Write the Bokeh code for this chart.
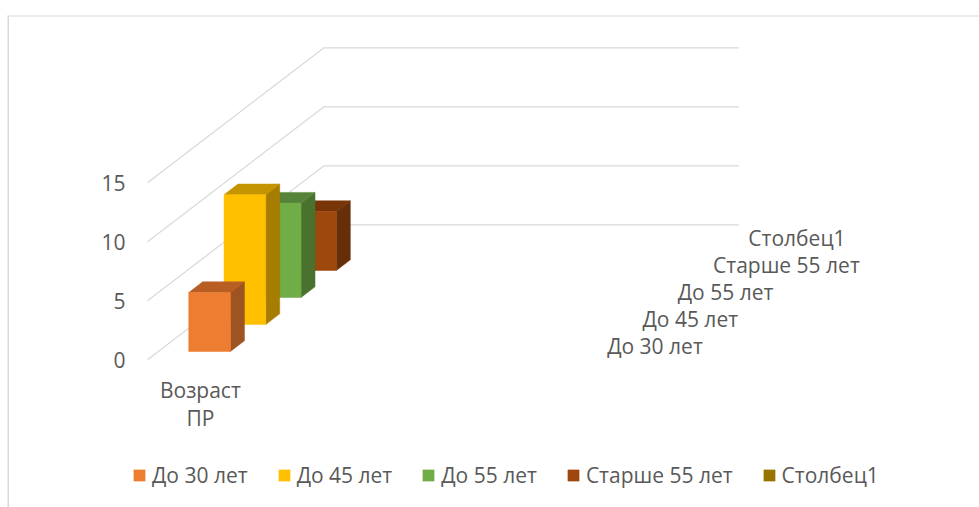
from bokeh.plotting import figure
from bokeh.embed import file_html
from bokeh.resources import INLINE
from bokeh.core.properties import value
from bokeh.models import (BoxAnnotation, FixedTicker, Legend, LegendItem, LinearAxis, Range1d)

# ---- data ----
categories = ["Возраст ПР"]
series_names = ["До 30 лет", "До 45 лет", "До 55 лет", "Старше 55 лет", "Столбец1"]
series_values = [5, 11, 8, 5, None]
y_ticks = [0, 5, 10, 15]
front_colors = ["#ED7D31", "#FFC000", "#70AD47", "#9E480E", "#997300"]
side_colors = ["#9E5323", "#A67D00", "#4A722E", "#662F09", "#664D00"]
top_colors = ["#B85E24", "#C49500", "#558439", "#783608", "#735600"]

# ---- layout of the oblique projection ----
W, H = 979, 507
ORIGIN_X, ORIGIN_Y = 147.0, 359.3   # px of value 0, depth 0, category 0
PX_PER_VALUE = 11.8
PX_PER_CAT = 103.75
N_CATS = 4
DEPTH_DX, DEPTH_DY = 35.3, 27.0     # px per series step in depth
BAR_X0, BAR_X1 = 0.293, 0.695       # in category units
BAR_D0, BAR_D1 = 0.307, 0.703       # in depth units
FONT = "Open Sans"
TEXT = "#595959"
GRID = "#D9D9D9"
FS = "21px"

def X(c, d=0.0):
    return c + d * DEPTH_DX / PX_PER_CAT

def Y(v, d=0.0):
    return v + d * DEPTH_DY / PX_PER_VALUE

def dy_px(px):
    return (ORIGIN_Y - px) / PX_PER_VALUE

p = figure(width=W, height=H, output_backend="svg", toolbar_location=None,
           x_axis_location=None, y_axis_location=None,
           x_range=Range1d(-ORIGIN_X / PX_PER_CAT, (W - ORIGIN_X) / PX_PER_CAT),
           y_range=Range1d(dy_px(H), dy_px(0)),
           min_border_left=0, min_border_right=0, min_border_top=0, min_border_bottom=0)
p.outline_line_color = None
p.background_fill_color = "white"
p.grid.visible = False

ax = LinearAxis(ticker=FixedTicker(ticks=y_ticks))
ax.axis_line_color = None
ax.major_tick_line_color = None
ax.minor_tick_line_color = None
ax.major_label_text_font = FONT
ax.major_label_text_font_size = FS
ax.major_label_text_color = TEXT
ax.major_label_standoff = -131
p.add_layout(ax, "left")

# gridlines: slanted part, then along the back wall
n_series = len(series_names)
gx, gy = [], []
for t in y_ticks:
    gx.append([X(0, 0), X(0, n_series), X(N_CATS, n_series)])
    gy.append([Y(t, 0), Y(t, n_series), Y(t, n_series)])
p.multi_line(gx, gy, line_color=GRID, line_width=1.2)

# bars, back to front
NAN = float("nan")
legend_items = {}
for i in reversed(range(n_series)):
    v = series_values[i]
    xs_f, ys_f, xs_s, ys_s, xs_t, ys_t = [[NAN]], [[NAN]], [[NAN]], [[NAN]], [[NAN]], [[NAN]]
    if v is not None:
        d0, d1 = i + BAR_D0, i + BAR_D1
        xs_f = [[X(BAR_X0, d0), X(BAR_X1, d0), X(BAR_X1, d0), X(BAR_X0, d0)]]
        ys_f = [[Y(0, d0), Y(0, d0), Y(v, d0), Y(v, d0)]]
        xs_s = [[X(BAR_X1, d0), X(BAR_X1, d1), X(BAR_X1, d1), X(BAR_X1, d0)]]
        ys_s = [[Y(0, d0), Y(0, d1), Y(v, d1), Y(v, d0)]]
        xs_t = [[X(BAR_X0, d0), X(BAR_X1, d0), X(BAR_X1, d1), X(BAR_X0, d1)]]
        ys_t = [[Y(v, d0), Y(v, d0), Y(v, d1), Y(v, d1)]]
    p.patches(xs_s, ys_s, fill_color=side_colors[i], line_color=side_colors[i], line_width=0.5)
    p.patches(xs_t, ys_t, fill_color=top_colors[i], line_color=top_colors[i], line_width=0.5)
    r = p.patches(xs_f, ys_f, fill_color=front_colors[i], line_color=front_colors[i], line_width=0.5)
    legend_items[i] = r

# category label under the chart
cat_words = categories[0].split(" ")
p.text([0.51] * len(cat_words),
       [dy_px(389.5), dy_px(417.5)],
       text=cat_words, text_align="center", text_baseline="middle",
       text_font=value(FONT), text_font_size=FS, text_color=TEXT)

# series labels on the depth axis
lab_x = [X(N_CATS, i + 0.5) + 27.0 / PX_PER_CAT for i in range(n_series)]
lab_y = [Y(0, i + 0.5) for i in range(n_series)]
p.text(lab_x, lab_y, text=series_names, text_align="left", text_baseline="middle",
       text_font=value(FONT), text_font_size=FS, text_color=TEXT)

# legend
legend = Legend(items=[LegendItem(label=n, renderers=[legend_items[i]]) for i, n in enumerate(series_names)],
                orientation="horizontal", location=(132, 18), margin=0, padding=0, spacing=29,
                glyph_width=14, glyph_height=14, label_standoff=6,
                label_text_font=FONT, label_text_font_size=FS, label_text_color=TEXT,
                border_line_color=None, background_fill_alpha=0)
p.add_layout(legend, "center")

# chart-area border: top and left edges
p.add_layout(BoxAnnotation(left=7, right=W, top=15, bottom=16,
                           left_units="canvas", right_units="canvas", top_units="canvas", bottom_units="canvas",
                           fill_color=GRID, fill_alpha=1, line_color=None))
p.add_layout(BoxAnnotation(left=7, right=8.5, top=15, bottom=H,
                           left_units="canvas", right_units="canvas", top_units="canvas", bottom_units="canvas",
                           fill_color=GRID, fill_alpha=1, line_color=None))

open("out.html", "w").write(file_html(p, INLINE))
